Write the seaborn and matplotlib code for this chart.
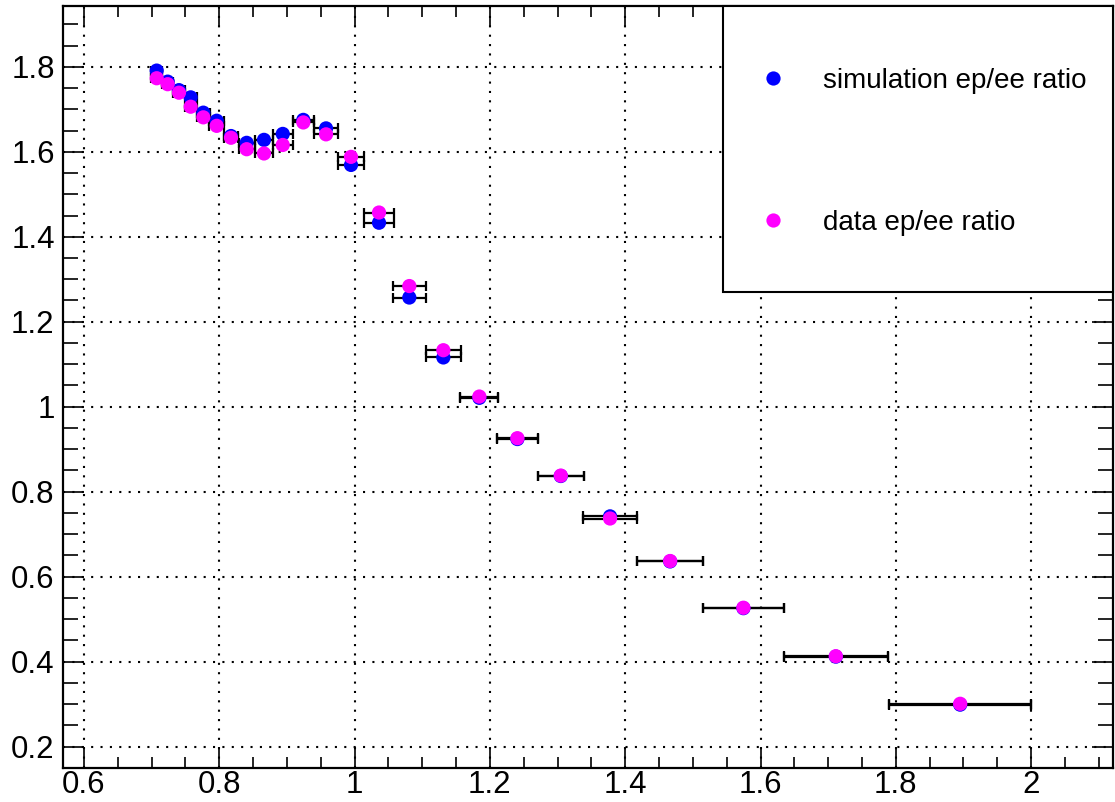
import pandas as pd
import seaborn as sns
import matplotlib.pyplot as plt
from matplotlib.patches import Rectangle
from matplotlib.ticker import MultipleLocator, FormatStrFormatter

# bin centres and half bin widths
x_centers = [0.7075, 0.7237, 0.7404, 0.7577, 0.7764, 0.7962, 0.8173, 0.8405,
             0.8661, 0.8938, 0.9242, 0.9578, 0.9947, 1.0361, 1.0809, 1.1312,
             1.1844, 1.2406, 1.3048, 1.3776, 1.4664, 1.5747, 1.7113, 1.8951]
x_halfwidths = [0.008, 0.008, 0.0085, 0.009, 0.0095, 0.011, 0.0105, 0.012,
                0.0128, 0.0148, 0.0155, 0.018, 0.019, 0.0227, 0.024, 0.026,
                0.028, 0.030, 0.034, 0.040, 0.049, 0.060, 0.077, 0.105]

sim_ratio = [1.791, 1.765, 1.745, 1.728, 1.692, 1.673, 1.637, 1.621,
             1.628, 1.642, 1.675, 1.655, 1.569, 1.433, 1.257, 1.116,
             1.021, 0.924, 0.837, 0.742, 0.636, 0.526, 0.412, 0.299]
data_ratio = [1.773, 1.759, 1.739, 1.706, 1.681, 1.661, 1.633, 1.606,
              1.596, 1.616, 1.669, 1.641, 1.588, 1.457, 1.284, 1.133,
              1.024, 0.926, 0.838, 0.737, 0.637, 0.527, 0.413, 0.301]

series_names = ["simulation ep/ee ratio", "data ep/ee ratio"]
series_colors = {"simulation ep/ee ratio": "#0000ff", "data ep/ee ratio": "#ff00ff"}

df = pd.DataFrame({
    "x": x_centers * 2,
    "xerr": x_halfwidths * 2,
    "ratio": sim_ratio + data_ratio,
    "series": [series_names[0]] * len(sim_ratio) + [series_names[1]] * len(data_ratio),
})

sns.set_style("ticks")
plt.rcParams['font.family'] = ['Liberation Sans', 'DejaVu Sans']

fig = plt.figure(figsize=(11.15, 8.02), dpi=100)
ax = fig.add_axes([63 / 1115, 1 - 767.7 / 802, 1050 / 1115, 761.7 / 802])

# error bars first, markers on top
for name in series_names:
    sub = df[df["series"] == name]
    ax.errorbar(sub["x"], sub["ratio"], xerr=sub["xerr"], fmt="none",
                ecolor="black", elinewidth=1.6, capsize=3.5, capthick=1.6, zorder=2)

sns.scatterplot(data=df, x="x", y="ratio", hue="series", palette=series_colors,
                s=105, linewidth=0, ax=ax, zorder=3)

ax.set_xlim(0.569, 2.121)
ax.set_ylim(0.1506, 1.943)
ax.set_xlabel("")
ax.set_ylabel("")

ax.xaxis.set_major_locator(MultipleLocator(0.2))
ax.xaxis.set_minor_locator(MultipleLocator(0.05))
ax.yaxis.set_major_locator(MultipleLocator(0.2))
ax.yaxis.set_minor_locator(MultipleLocator(0.05))
ax.xaxis.set_major_formatter(FormatStrFormatter("%g"))
ax.yaxis.set_major_formatter(FormatStrFormatter("%g"))

ax.grid(True, which="major", color="black", linestyle=(0, (1, 3.5)), linewidth=1.5)
ax.set_axisbelow(True)

ax.tick_params(which="both", direction="in", top=True, right=True,
               width=1.2, color="black", labelsize=22.5, labelcolor="black")
ax.tick_params(axis="x", which="major", length=15, pad=2)
ax.tick_params(axis="x", which="minor", length=8)
ax.tick_params(axis="y", which="major", length=15, pad=6)
ax.tick_params(axis="y", which="minor", length=11)
for sp in ax.spines.values():
    sp.set_linewidth(1.6)
    sp.set_color("black")

# legend box
box = Rectangle((0.6286, 0.625), 0.3714, 0.375, transform=ax.transAxes,
                facecolor="white", edgecolor="black", linewidth=1.5,
                zorder=6, clip_on=False)
ax.add_patch(box)
handles, labels = ax.get_legend_handles_labels()
leg = ax.legend(handles, labels, loc="upper left", bbox_to_anchor=(0.6497, 0.937),
                frameon=False, fontsize=20, borderpad=0, handlelength=1.0,
                handletextpad=1.3, labelspacing=4.17)
for t in leg.get_texts():
    t.set_color("black")
leg.set_zorder(7)

fig.savefig("out.png", dpi=100)
